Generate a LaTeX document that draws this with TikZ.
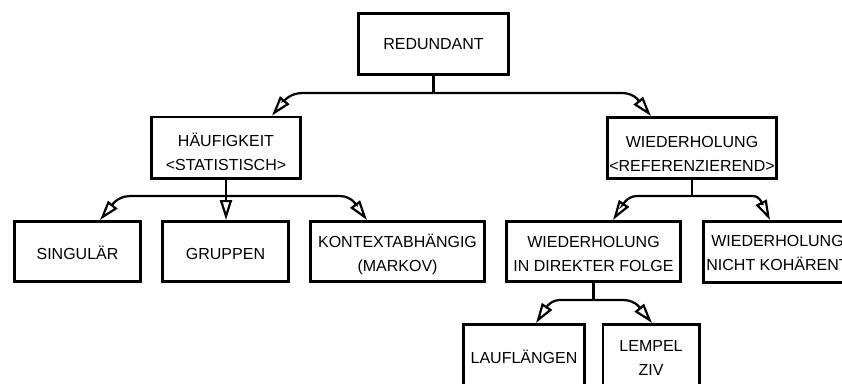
\documentclass[tikz,border=0pt]{standalone}
\usepackage{fontspec}
\setmainfont{Liberation Sans}
\usetikzlibrary{arrows.meta,calc}
\newcommand\tx[3]{\rule{0pt}{#1pt}#3\rule[-#2pt]{0pt}{#2pt}}
\begin{document}
\begin{tikzpicture}[x=1pt,y=-1pt,
  box/.style={draw, line width=2.6pt, inner sep=0pt, align=center,
    font=\fontsize{16}{24}\selectfont},
  sz/.style 2 args={minimum width=#1pt, minimum height=#2pt},
  con/.style={line width=2.2pt},
  arr/.style={con, -{Triangle[open, length=20pt, width=12pt, line width=2.2pt]}}]
\useasboundingbox (0,0) rectangle (842,383);
\clip (0,0) rectangle (842,383);

% boxes
\node[box, sz={150.4}{61.4}] (red)   at (433.5,44)   {\tx{20}{9}{REDUNDANT}};
\node[box, sz={149.4}{61.9}] (haeuf) at (226,147.8)  {\tx{24}{2.6}{HÄUFIGKEIT\\<STATISTISCH>}};
\node[box, sz={169.4}{61.4}] (wied)  at (692,148)    {\tx{24}{1}{WIEDERHOLUNG\\<REFERENZIEREND>}};
\node[box, sz={126.4}{60.4}] (sing)  at (77.5,251.5) {\tx{20}{4}{SINGULÄR}};
\node[box, sz={126.4}{60.4}] (grup)  at (225.5,251.5){\tx{20}{4}{GRUPPEN}};
\node[box, sz={174.4}{60.4}] (kont)  at (397.5,251.5){\tx{20}{4}{KONTEXTABHÄNGIG\\(MARKOV)}};
\node[box, sz={174.4}{60.4}] (dir)   at (593.5,251.5){\tx{20}{4}{WIEDERHOLUNG\\IN DIREKTER FOLGE}};
\node[box, sz={148.4}{61.4}] (nicht) at (777.5,252)  {\tx{20}{7}{WIEDERHOLUNG\\NICHT KOHÄRENT}};
\node[box, sz={121.4}{67.4}] (lauf)  at (524,358)    {\tx{20}{9}{LAUFLÄNGEN}};
\node[box, sz={96.4}{67.4}]  (lemp)  at (651,358)    {\tx{20}{10}{LEMPEL\\ZIV}};

% junctions
\coordinate (jr) at ($(red.south)+(0,17)$);
\coordinate (jh) at ($(haeuf.south)+(0,16)$);
\coordinate (jw) at ($(wied.south)+(0,16)$);
\coordinate (jd) at ($(dir.south)+(0,17)$);

% arrow tips
\coordinate (tH) at ($(haeuf.north)+(46,0)$);
\coordinate (tW) at ($(wied.north)+(-41,0)$);
\coordinate (tS) at ($(sing.north)+(22.5,0)$);
\coordinate (tK) at ($(kont.north)+(-30.5,0)$);
\coordinate (tD) at ($(dir.north)+(19.5,0)$);
\coordinate (tN) at ($(nicht.north)+(-7.5,0)$);
\coordinate (tL) at ($(lauf.north)+(12,0)$);
\coordinate (tP) at ($(lemp.north)+(1,0)$);

% REDUNDANT
\draw[con] (red.south) -- (jr);
\draw[arr] (jr) -- ($(jr)+(-131,0)$) .. controls +(-14,0) and ($(tH)+(10,-12)$) .. (tH);
\draw[arr] (jr) -- ($(jr)+(188.5,0)$) .. controls +(14,0) and ($(tW)+(-10,-12)$) .. (tW);

% HAEUFIGKEIT
\draw[con] (haeuf.south) -- (jh);
\draw[arr] (jh) -- ($(jh)+(-96,0)$) .. controls +(-14,0) and ($(tS)+(10,-12)$) .. (tS);
\draw[arr] (jh) -- (jh |- grup.north);
\draw[arr] (jh) -- ($(jh)+(114,0)$) .. controls +(13,0) and ($(tK)+(-9,-12)$) .. (tK);

% WIEDERHOLUNG
\draw[con] (wied.south) -- (jw);
\draw[arr] (jw) -- ($(jw)+(-55,0)$) .. controls +(-11,0) and ($(tD)+(8,-12)$) .. (tD);
\draw[arr] (jw) -- ($(jw)+(61,0)$) .. controls +(8,0) and ($(tN)+(-6,-12)$) .. (tN);

% DIREKTER FOLGE
\draw[con] (dir.south) -- (jd);
\draw[arr] (jd) -- ($(jd)+(-33.5,0)$) .. controls +(-11,0) and ($(tL)+(8,-12)$) .. (tL);
\draw[arr] (jd) -- ($(jd)+(29.5,0)$) .. controls +(14,0) and ($(tP)+(-10,-12)$) .. (tP);
\end{tikzpicture}
\end{document}
